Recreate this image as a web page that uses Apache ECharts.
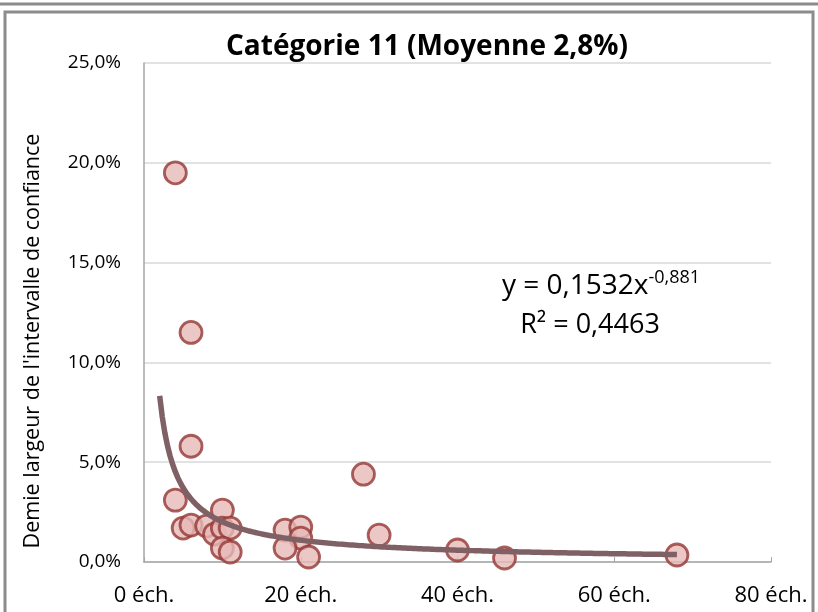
<!DOCTYPE html>
<html>
<head>
<meta charset="utf-8">
<script src="https://cdn.jsdelivr.net/npm/echarts@6/dist/echarts.min.js"></script>
<style>html,body{margin:0;padding:0;background:#fff}#c{width:818px;height:612px}</style>
</head>
<body>
<div id="c"></div>
<script>
var titleText = 'Catégorie 11 (Moyenne 2,8%)';
var yAxisTitle = "Demie largeur de l'intervalle de confiance";
// sample size (x) and half-width of confidence interval in % (y)
var sampleSizes = [4, 6, 6, 4, 5, 6, 8, 9, 10, 10, 11, 10, 11, 18, 20, 20, 18, 21, 28, 30, 40, 46, 68];
var halfWidths  = [19.5, 11.5, 5.8, 3.1, 1.7, 1.85, 1.8, 1.4, 2.6, 1.7, 1.7, 0.7, 0.5, 1.6, 1.75, 1.2, 0.7, 0.25, 4.4, 1.35, 0.6, 0.2, 0.35];
var xTicks = [0, 20, 40, 60, 80];
var yTicks = [0, 5, 10, 15, 20, 25];
// power trendline shown in the chart: y = 0,1532 x^-0,881
var trendCoef = 0.1532, trendExp = -0.881, trendR2 = '0,4463';
var trendFrom = 2, trendTo = 68;

var FONT = "'Open Sans', 'Liberation Sans', sans-serif";
var points = sampleSizes.map(function (x, i) { return [x, halfWidths[i]]; });
var trend = [];
for (var k = 0; k <= 200; k++) {
  var x = trendFrom + (trendTo - trendFrom) * k / 200;
  trend.push([x, trendCoef * Math.pow(x, trendExp) * 100]);
}
var fmtPct = function (v) { return v.toFixed(1).replace('.', ',') + '%'; };

var chart = echarts.init(document.getElementById('c'), null, {renderer: 'canvas'});
chart.setOption({
  animation: false,
  backgroundColor: '#fff',
  grid: {left: 144, right: 47, top: 63, bottom: 50},
  title: {
    text: titleText, left: 422, top: 28, textAlign: 'center',
    textStyle: {fontFamily: FONT, fontWeight: 'bold', fontSize: 28, color: '#000'}
  },
  xAxis: {
    type: 'value', min: xTicks[0], max: xTicks[xTicks.length - 1], interval: 20,
    axisLine: {show: true, lineStyle: {color: '#A6A6A6', width: 1.5}},
    axisTick: {show: true, inside: true, length: 5, lineStyle: {color: '#A6A6A6'}},
    splitLine: {show: false},
    axisLabel: {fontFamily: FONT, fontSize: 22, color: '#000', margin: 23,
      formatter: function (v) { return v + ' éch.'; }}
  },
  yAxis: {
    type: 'value', min: yTicks[0], max: yTicks[yTicks.length - 1], interval: 5,
    axisLine: {show: true, lineStyle: {color: '#A6A6A6', width: 1.5}},
    axisTick: {show: false},
    splitLine: {show: true, lineStyle: {color: '#D9D9D9', width: 1.5}},
    axisLabel: {fontFamily: FONT, fontSize: 19, color: '#000', margin: 23, formatter: fmtPct}
  },
  series: [
    {
      type: 'line', data: trend, showSymbol: false, smooth: false, z: 3,
      lineStyle: {color: '#7F6065', width: 5.5}
    },
    {
      type: 'scatter', data: points, symbol: 'circle', symbolSize: 22, z: 2,
      itemStyle: {color: '#E6B9B8', borderColor: '#953735', borderWidth: 2.8}
    }
  ],
  graphic: [
    {type: 'rect', shape: {x: -2, y: -10, width: 822, height: 14}, style: {fill: 'none', stroke: '#8C8C8C', lineWidth: 3}},
    {type: 'rect', shape: {x: 5, y: 12, width: 808, height: 620}, style: {fill: 'none', stroke: '#8C8C8C', lineWidth: 3}},
    {type: 'text', x: 33, y: 341, rotation: Math.PI / 2,
      style: {text: yAxisTitle, fontFamily: FONT, fontSize: 21.5, fill: '#000', textAlign: 'center', textVerticalAlign: 'middle'}},
    {type: 'text', x: 601, y: 286,
      style: {
        text: '{n|y = ' + String(trendCoef).replace('.', ',') + 'x}{s|' + String(trendExp).replace('.', ',') + '}',
        textAlign: 'center', textVerticalAlign: 'middle',
        rich: {
          n: {fontFamily: FONT, fontSize: 28, fill: '#000'},
          s: {fontFamily: FONT, fontSize: 18, fill: '#000', verticalAlign: 'top', padding: [0, 0, 17, 0]}
        }
      }},
    {type: 'text', x: 590, y: 325,
      style: {text: 'R² = ' + trendR2, fontFamily: FONT, fontSize: 27, fill: '#000', textAlign: 'center', textVerticalAlign: 'middle'}}
  ]
});
</script>
</body>
</html>
